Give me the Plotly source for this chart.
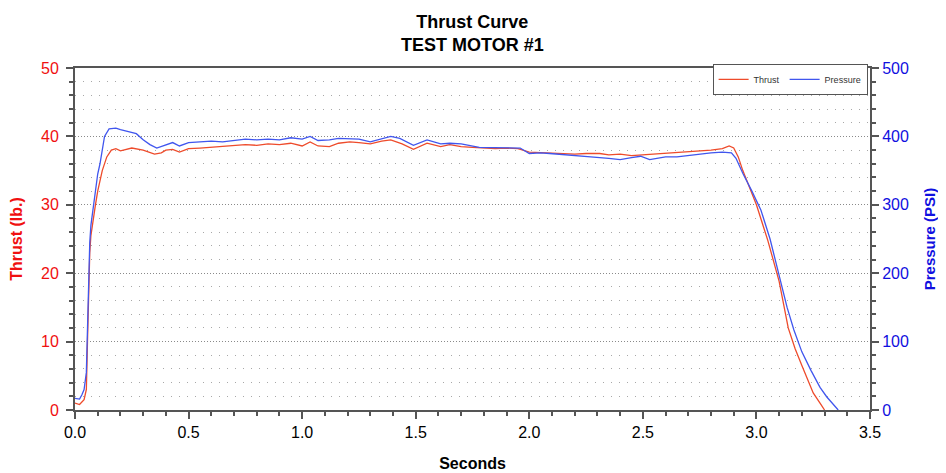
import plotly.graph_objects as go

# Thrust (lb.) vs time (s)
thrust_t = [0.00, 0.02, 0.04, 0.05, 0.055, 0.06, 0.065, 0.07, 0.08, 0.09, 0.10, 0.12, 0.14, 0.16, 0.18,
            0.20, 0.25, 0.30, 0.35, 0.38, 0.40, 0.43, 0.46, 0.50, 0.55, 0.60, 0.65, 0.70, 0.75, 0.80,
            0.85, 0.90, 0.95, 1.00, 1.035, 1.07, 1.12, 1.16, 1.21, 1.25, 1.30, 1.35, 1.39, 1.44, 1.49,
            1.55, 1.61, 1.65, 1.70, 1.75, 1.80, 1.85, 1.90, 1.95, 2.00, 2.05, 2.10, 2.15, 2.20, 2.25,
            2.31, 2.35, 2.40, 2.45, 2.50, 2.55, 2.60, 2.65, 2.70, 2.75, 2.80, 2.85, 2.88, 2.90, 2.92,
            2.94, 2.97, 3.00, 3.05, 3.10, 3.14, 3.17, 3.20, 3.25, 3.28, 3.30]
thrust_lb = [1.0, 0.8, 1.5, 3.0, 10.0, 18.0, 23.0, 25.5, 28.0, 30.0, 32.0, 35.0, 37.0, 38.0, 38.2,
             37.9, 38.3, 38.0, 37.4, 37.6, 38.0, 38.1, 37.7, 38.2, 38.3, 38.4, 38.5, 38.6, 38.8, 38.7,
             38.9, 38.8, 39.0, 38.6, 39.2, 38.6, 38.5, 39.0, 39.2, 39.1, 38.9, 39.3, 39.5, 38.9, 38.1,
             39.0, 38.5, 38.8, 38.5, 38.4, 38.3, 38.2, 38.3, 38.2, 37.7, 37.6, 37.5, 37.5, 37.4, 37.5,
             37.5, 37.3, 37.4, 37.2, 37.3, 37.4, 37.5, 37.6, 37.7, 37.9, 38.0, 38.2, 38.6, 38.3, 37.0,
             35.0, 32.5, 30.0, 24.8, 18.8, 12.0, 9.0, 6.5, 2.5, 1.0, 0.0]

# Chamber pressure (PSI) vs time (s)
pressure_t = [0.00, 0.02, 0.03, 0.04, 0.05, 0.055, 0.06, 0.065, 0.07, 0.08, 0.09, 0.10, 0.11, 0.12,
              0.13, 0.15, 0.18, 0.20, 0.23, 0.25, 0.27, 0.30, 0.33, 0.36, 0.40, 0.43, 0.46, 0.50,
              0.55, 0.60, 0.65, 0.70, 0.75, 0.80, 0.85, 0.90, 0.95, 1.00, 1.035, 1.07, 1.12, 1.16,
              1.21, 1.25, 1.30, 1.35, 1.39, 1.43, 1.49, 1.55, 1.61, 1.65, 1.70, 1.78, 1.87, 1.96,
              2.00, 2.05, 2.09, 2.18, 2.27, 2.35, 2.40, 2.45, 2.49, 2.53, 2.60, 2.65, 2.70, 2.75,
              2.80, 2.85, 2.89, 2.91, 2.94, 2.98, 3.02, 3.06, 3.10, 3.135, 3.165, 3.20, 3.24, 3.28,
              3.31, 3.34, 3.36]
pressure_psi = [17, 16, 22, 30, 55, 130, 200, 245, 270, 295, 320, 345, 360, 380,
                400, 411, 412, 410, 407, 406, 404, 395, 388, 383, 388, 391, 386, 391,
                392, 393, 392, 394, 396, 395, 396, 395, 398, 396, 400, 394, 395, 397,
                397, 396, 392, 397, 400, 397, 387, 395, 389, 390, 389, 384, 383, 383,
                375, 376, 375, 373, 370, 368, 366, 369, 371, 366, 370, 370, 372, 375,
                376, 377, 376, 368, 346, 320, 292, 250, 195, 150, 117, 85, 58, 33,
                19, 7, 0]

x_ticks = [0.0, 0.5, 1.0, 1.5, 2.0, 2.5, 3.0, 3.5]

RED = "#EE4B2B"
BLUE = "#4056EE"
RED_TXT = "#F01010"
BLUE_TXT = "#1010E0"
AXIS = "#555555"
FONT = "Liberation Sans, Arial, sans-serif"

fig = go.Figure()
fig.add_trace(go.Scatter(x=thrust_t, y=thrust_lb, name="Thrust", mode="lines",
                         line=dict(color=RED, width=1.3), xaxis="x", yaxis="y"))
fig.add_trace(go.Scatter(x=pressure_t, y=pressure_psi, name="Pressure", mode="lines",
                         line=dict(color=BLUE, width=1.3), xaxis="x", yaxis="y2"))

inner_tick = dict(ticks="inside", ticklen=7, tickwidth=1.5, tickcolor=AXIS,
                  showticklabels=False, showgrid=False, zeroline=False, showline=False)

fig.update_layout(
    width=938, height=465,
    margin=dict(l=67, r=76, t=60, b=63),
    paper_bgcolor="white", plot_bgcolor="white",
    font=dict(family=FONT, color="black"),
    showlegend=True,
    legend=dict(orientation="h", x=0.997, xanchor="right", y=1.012, yanchor="top",
                bordercolor="#555555", borderwidth=1, bgcolor="white",
                font=dict(size=9, color="#333333"),
                tracegroupgap=0, itemwidth=30),
    annotations=[dict(text="<b>Thrust Curve<br>TEST MOTOR #1</b>", xref="paper", yref="paper",
                      x=0.5, y=1, xanchor="center", yanchor="bottom", yshift=11, showarrow=False,
                      font=dict(size=18, color="black", family=FONT))],
    xaxis=dict(range=[0, 3.5], tickvals=x_ticks, ticktext=[f"{v:.1f}" for v in x_ticks],
               showgrid=False, zeroline=False, automargin=False,
               showline=True, linecolor=AXIS, linewidth=2, mirror=True,
               ticks="outside", ticklen=7, tickwidth=1.5, tickcolor=AXIS,
               minor=dict(dtick=0.1, ticks="outside", ticklen=4, tickcolor=AXIS, showgrid=False),
               tickfont=dict(size=16, color="black"),
               title=dict(text="<b>Seconds</b>", font=dict(size=16, color="black"), standoff=18)),
    xaxis2=dict(range=[0, 3.5], overlaying="x", anchor="y", side="bottom", tickvals=x_ticks,
                minor=dict(dtick=0.1, ticks="inside", ticklen=4, tickcolor=AXIS, showgrid=False),
                automargin=False, **inner_tick),
    yaxis=dict(range=[0, 50], dtick=10, showgrid=True, gridcolor="#8a8a8a", griddash="1px,2px",
               gridwidth=1, zeroline=False, automargin=False,
               showline=True, linecolor=AXIS, linewidth=2,
               ticks="outside", ticklen=7, tickwidth=1.5, tickcolor=AXIS, ticklabelstandoff=4,
               minor=dict(dtick=2, ticks="outside", ticklen=4, tickcolor=AXIS,
                          showgrid=True, gridcolor="#a8a8a8", griddash="1px,7px", gridwidth=1),
               tickfont=dict(size=16, color=RED_TXT),
               title=dict(text="<b>Thrust (lb.)</b>", font=dict(size=16, color=RED_TXT), standoff=16)),
    yaxis3=dict(range=[0, 50], dtick=10, overlaying="y", side="left", anchor="x",
                minor=dict(dtick=2, ticks="inside", ticklen=4, tickcolor=AXIS, showgrid=False),
                automargin=False, **inner_tick),
    yaxis2=dict(range=[0, 500], dtick=100, overlaying="y", side="right", showgrid=False,
                zeroline=False, showline=True, linecolor=AXIS, linewidth=2, automargin=False,
                ticks="outside", ticklen=7, tickwidth=1.5, tickcolor=AXIS,
                minor=dict(dtick=20, ticks="outside", ticklen=4, tickcolor=AXIS, showgrid=False),
                tickfont=dict(size=16, color=BLUE_TXT),
                title=dict(text="<b>Pressure (PSI)</b>", font=dict(size=15, color=BLUE_TXT), standoff=17)),
    yaxis4=dict(range=[0, 500], dtick=100, overlaying="y", side="right", anchor="x",
                minor=dict(dtick=20, ticks="inside", ticklen=4, tickcolor=AXIS, showgrid=False),
                automargin=False, **inner_tick),
)

fig.write_html("out.html")
